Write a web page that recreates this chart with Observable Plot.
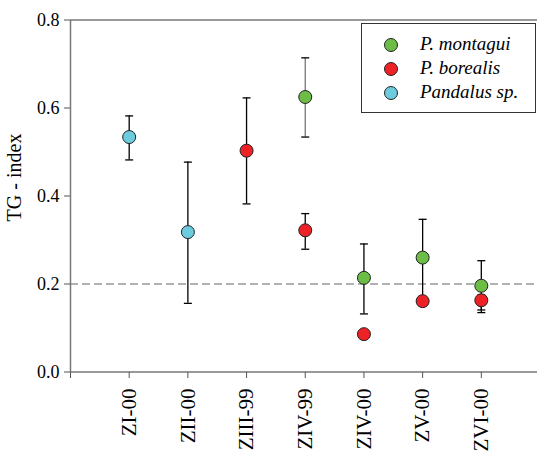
<!DOCTYPE html>
<html>
<head>
<meta charset="utf-8">
<script src="https://cdn.jsdelivr.net/npm/d3@7"></script>
<script src="https://cdn.jsdelivr.net/npm/@observablehq/plot@0.6"></script>
</head>
<body style="margin:0;padding:0;background:#fff;overflow:hidden">
<div id="wrap" style="position:relative;width:537px;height:462px"></div>
<script>
// ---- data ----
const categories = ["ZI-00", "ZII-00", "ZIII-99", "ZIV-99", "ZIV-00", "ZV-00", "ZVI-00"];
const species = ["P. montagui", "P. borealis", "Pandalus sp."];
const colors = ["#6cbd45", "#ee2226", "#6ccbdd"];

const montaguiMean = [null, null, null, 0.625, 0.214, 0.260, 0.196];
const montaguiLow  = [null, null, null, 0.534, 0.132, 0.170, 0.135];
const montaguiHigh = [null, null, null, 0.714, 0.291, 0.347, 0.253];

const borealisMean = [null, null, 0.503, 0.322, 0.086, 0.161, 0.163];
const borealisLow  = [null, null, 0.382, 0.279, null, null, 0.141];
const borealisHigh = [null, null, 0.623, 0.360, null, null, 0.175];

const pandalusMean = [0.534, 0.318, null, null, null, null, null];
const pandalusLow  = [0.482, 0.156, null, null, null, null, null];
const pandalusHigh = [0.582, 0.477, null, null, null, null, null];

const yTicks = [0, 0.2, 0.4, 0.6, 0.8];
const referenceLine = 0.2;

// ---- build table ----
const series = [
  [montaguiMean, montaguiLow, montaguiHigh],
  [borealisMean, borealisLow, borealisHigh],
  [pandalusMean, pandalusLow, pandalusHigh]
];
const rows = [];
series.forEach(([m, lo, hi], s) => {
  categories.forEach((c, i) => {
    if (m[i] != null) rows.push({species: species[s], cat: c, pos: i + 1, mean: m[i], lo: lo[i], hi: hi[i]});
  });
});
const bars = rows.filter(d => d.lo != null && d.hi != null);

const cap = { draw(ctx) { ctx.moveTo(-4, 0); ctx.lineTo(4, 0); } };

const chart = Plot.plot({
  width: 537,
  height: 462,
  marginLeft: 70,
  marginTop: 20,
  marginBottom: 90,
  marginRight: 0,
  style: "background: white; font-family: 'Liberation Serif'; font-size: 18px",
  x: { domain: [0, categories.length + 1], range: [70, 539.5] },
  y: { domain: [0, 0.8], range: [371.5, 19.5] },
  color: { domain: species, range: colors },
  marks: [
    Plot.ruleY([referenceLine], { stroke: "#666", strokeWidth: 1.2, strokeDasharray: "8,4" }),
    Plot.ruleY([0, 0.8], { stroke: "#777", strokeWidth: 1.5 }),
    Plot.ruleX([0], { stroke: "#777", strokeWidth: 1.5 }),
    Plot.axisY({ ticks: yTicks, tickFormat: d3.format(".1f"), tickSize: 6, tickPadding: 5, fontSize: 18, stroke: "#555", fill: "#000", label: null }),
    Plot.axisX({ ticks: d3.range(0, categories.length + 2), tickFormat: i => categories[i - 1] ?? "", tickSize: 6, tickPadding: 10, tickRotate: -90, fontSize: 21, stroke: "#555", fill: "#000", label: null }),
    Plot.text(["TG - index"], { frameAnchor: "left", dx: -56, dy: -19, rotate: -90, fontSize: 20, textAnchor: "middle", lineAnchor: "middle", fill: "#000" }),
    Plot.ruleX(bars, { x: "pos", y1: "lo", y2: "hi", stroke: d => (d.cat === "ZIV-99" && d.species === "P. montagui") ? "#777" : "#000", strokeWidth: 1.3 }),
    Plot.dot(bars, { x: "pos", y: "lo", symbol: cap, stroke: "#000", fill: "none", strokeWidth: 1.3 }),
    Plot.dot(bars, { x: "pos", y: "hi", symbol: cap, stroke: "#000", fill: "none", strokeWidth: 1.3 }),
    Plot.dot(rows, { x: "pos", y: "mean", fill: "species", stroke: "#222", strokeWidth: 1, r: 6.5 })
  ]
});

const wrap = document.getElementById("wrap");
wrap.appendChild(chart);

const legend = document.createElement("div");
legend.style.cssText = "position:absolute;left:361px;top:23px;width:173px;height:88px;border:1.5px solid #333;background:#fff";
species.forEach((s, k) => {
  const sw = document.createElement("div");
  sw.style.cssText = `position:absolute;left:22px;top:${14 + k * 24}px;width:12px;height:12px;border-radius:50%;border:1px solid #222;background:${colors[k]}`;
  const lab = document.createElement("div");
  lab.style.fontFamily = '"Liberation Serif"';
  lab.style.cssText += `;position:absolute;left:58px;top:${9 + k * 24}px;white-space:nowrap;font-style:italic;font-size:19px;line-height:22px;color:#000`;
  lab.textContent = s;
  legend.appendChild(sw);
  legend.appendChild(lab);
});
wrap.appendChild(legend);
</script>
</body>
</html>
